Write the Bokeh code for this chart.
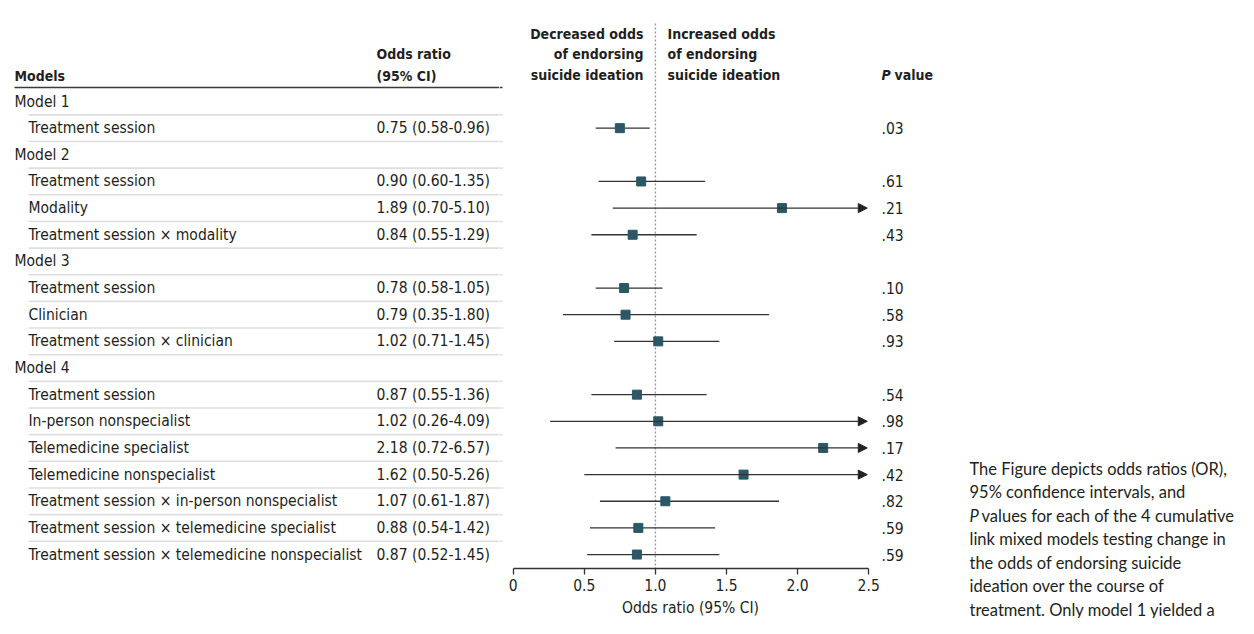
from bokeh.plotting import figure
from bokeh.layouts import row
from bokeh.models import ColumnDataSource, Range1d, FixedTicker, Arrow, NormalHead
from bokeh.core.properties import value
from bokeh.embed import file_html
from bokeh.resources import INLINE

# ---------------- data ----------------
models = ["Model 1", "Model 2", "Model 3", "Model 4"]
terms = [
    ["Treatment session"],
    ["Treatment session", "Modality", "Treatment session × modality"],
    ["Treatment session", "Clinician", "Treatment session × clinician"],
    ["Treatment session", "In-person nonspecialist", "Telemedicine specialist",
     "Telemedicine nonspecialist", "Treatment session × in-person nonspecialist",
     "Treatment session × telemedicine specialist",
     "Treatment session × telemedicine nonspecialist"],
]
or_est = [0.75, 0.90, 1.89, 0.84, 0.78, 0.79, 1.02, 0.87, 1.02, 2.18, 1.62, 1.07, 0.88, 0.87]
ci_low = [0.58, 0.60, 0.70, 0.55, 0.58, 0.35, 0.71, 0.55, 0.26, 0.72, 0.50, 0.61, 0.54, 0.52]
ci_high = [0.96, 1.35, 5.10, 1.29, 1.05, 1.80, 1.45, 1.36, 4.09, 6.57, 5.26, 1.87, 1.42, 1.45]
p_labels = [".03", ".61", ".21", ".43", ".10", ".58", ".93", ".54", ".98", ".17", ".42",
            ".82", ".59", ".59"]
tick_values = [0, 0.5, 1.0, 1.5, 2.0, 2.5]
tick_labels = ["0", "0.5", "1.0", "1.5", "2.0", "2.5"]
axis_max = 2.5

caption_lines = [
    "The Figure depicts odds ratios (OR),",
    "95% confidence intervals, and",
    "values for each of the 4 cumulative",
    "link mixed models testing change in",
    "the odds of endorsing suicide",
    "ideation over the course of",
    "treatment. Only model 1 yielded a",
    "significant result.",
]

# ---------------- layout helpers ----------------
W, H = 1238, 618
XA, XB = 499, 881             # panel split points (table | forest | p values + note)
FRAME_H = 568                 # axis line position in forest panel
X0_PX, X_SCALE = 512.7, 142.2      # pixel of OR=0, pixels per OR unit
Y0_PX, Y_STEP = 101.0, 26.65       # pixel of first row, pixels per row


def xd(px):
    return (px - X0_PX) / X_SCALE


def yd(py):
    return (py - Y0_PX) / Y_STEP


FONT_NAME = "DejaVu Sans Condensed, Liberation Sans Narrow, Roboto"
FONT = value(FONT_NAME)
CAP_FONT = value("Lato")
TXT = "#231f20"
TS = "15.5px"
HS = "14px"
CS = "16.5px"

# build rows
hdr_y, hdr_txt = [], []
item_y, item_txt = [], []
r = 0
for m, tl in zip(models, terms):
    hdr_y.append(r)
    hdr_txt.append(m)
    r += 1
    for t in tl:
        item_y.append(r)
        item_txt.append(t)
        r += 1
n_rows = r
sep_y = [i + 0.5 for i in range(n_rows - 1)]

or_txt = [f"{o:.2f} ({l:.2f}-{h:.2f})" for o, l, h in zip(or_est, ci_low, ci_high)]


def bare(fig):
    fig.frame_align = False
    fig.grid.visible = False
    fig.outline_line_color = None
    return fig


def txt(fig, x, y, t, size=TS, style="normal", align="left", font=FONT):
    fig.text(x=x, y=y, text=t, text_font=font, text_font_size=size,
             text_font_style=style, text_baseline="middle", text_align=align,
             text_color=TXT)


# ================= A: table =================
a = bare(figure(width=XA, height=H, x_range=Range1d(0, XA),
                y_range=Range1d(yd(H), yd(0)), output_backend="svg",
                toolbar_location=None, x_axis_location=None, y_axis_location=None,
                min_border=0))
a.segment(x0=28, x1=XA, y0=sep_y, y1=sep_y, line_color="#dedede", line_width=1.6)
a.segment(x0=14, x1=XA, y0=yd(87), y1=yd(87), line_color="#3a3a3a", line_width=1.6)
txt(a, 14, hdr_y, hdr_txt)
txt(a, 28, item_y, item_txt)
txt(a, 376, item_y, or_txt)
txt(a, [14], [yd(75)], ["Models"], size=HS, style="bold")
txt(a, [376], [yd(53)], ["Odds ratio"], size=HS, style="bold")
txt(a, [376], [yd(75)], ["(95% CI)"], size=HS, style="bold")

# ================= B: forest plot =================
p = bare(figure(x_range=Range1d(xd(XA), xd(XB)), y_range=Range1d(yd(FRAME_H), yd(0)),
                output_backend="svg", toolbar_location=None, y_axis_location=None,
                min_border=0))
p.frame_width = XB - XA
p.frame_height = FRAME_H

# end pieces of the table rules
p.segment(x0=xd(XA), x1=xd(502), y0=sep_y, y1=sep_y, line_color="#dedede", line_width=1.6)
p.segment(x0=xd(XA), x1=xd(502), y0=yd(87), y1=yd(87), line_color="#3a3a3a", line_width=1.6)

# reference line at OR = 1
p.segment(x0=1, x1=1, y0=yd(23), y1=yd(FRAME_H), line_color="#9a9a9a",
          line_width=1.4, line_dash="2 2")

# CIs
seg_src = ColumnDataSource(dict(
    lo=[l for l, h in zip(ci_low, ci_high) if h <= axis_max],
    hi=[h for l, h in zip(ci_low, ci_high) if h <= axis_max],
    y=[y for y, h in zip(item_y, ci_high) if h <= axis_max]))
p.segment(x0="lo", x1="hi", y0="y", y1="y", source=seg_src, line_color="#333333",
          line_width=1.3)

arr_src = ColumnDataSource(dict(
    lo=[l for l, h in zip(ci_low, ci_high) if h > axis_max],
    hi=[axis_max - 0.01 for h in ci_high if h > axis_max],
    y=[y for y, h in zip(item_y, ci_high) if h > axis_max]))
p.add_layout(Arrow(x_start="lo", x_end="hi", y_start="y", y_end="y", source=arr_src,
                   line_color="#333333", line_width=1.3,
                   end=NormalHead(size=9, fill_color="#222222", line_color="#222222",
                                  line_width=1)))

# estimates
p.scatter(x=or_est, y=item_y, marker="square", size=9, fill_color="#2b5766",
          line_color="#2b5766")

for k, t in enumerate(["Decreased odds", "of endorsing", "suicide ideation"]):
    txt(p, [xd(643)], [yd(33 + 20.5 * k)], [t], size=HS, style="bold", align="right")
for k, t in enumerate(["Increased odds", "of endorsing", "suicide ideation"]):
    txt(p, [xd(667)], [yd(33 + 20.5 * k)], [t], size=HS, style="bold")

# axis
ax = p.xaxis[0]
ax.bounds = (0, axis_max)
ax.ticker = FixedTicker(ticks=tick_values)
ax.major_label_overrides = {v: l for v, l in zip(tick_values, tick_labels)}
ax.minor_tick_line_color = None
ax.major_tick_in = 0
ax.major_tick_out = 6
ax.axis_line_color = "#333333"
ax.axis_line_width = 1.3
ax.major_tick_line_color = "#333333"
ax.major_tick_line_width = 1.3
ax.major_label_text_font = FONT_NAME
ax.major_label_text_font_size = TS
ax.major_label_text_color = TXT
ax.major_label_standoff = 4
ax.axis_label = "Odds ratio (95% CI)"
ax.axis_label_text_font = FONT_NAME
ax.axis_label_text_font_size = TS
ax.axis_label_text_font_style = "normal"
ax.axis_label_text_color = TXT
ax.axis_label_standoff = 5

# ================= C: P values + note =================
c = bare(figure(width=W - XB, height=H, x_range=Range1d(XB, W),
                y_range=Range1d(yd(H), yd(0)), output_backend="svg",
                toolbar_location=None, x_axis_location=None, y_axis_location=None,
                min_border=0))
txt(c, XB, item_y, p_labels)
txt(c, [XB], [yd(74)], ["P"], size=HS, style="bold italic")
txt(c, [894], [yd(74)], ["value"], size=HS, style="bold")

CAP_X = 969
cap_x = [CAP_X + (12 if k == 2 else 0) for k in range(len(caption_lines))]
cap_y = [yd(468 + 23.5 * k) for k in range(len(caption_lines))]
txt(c, cap_x, cap_y, caption_lines, size=CS, font=CAP_FONT)
txt(c, [CAP_X], [cap_y[2]], ["P"], size=CS, style="italic", font=CAP_FONT)

open("out.html", "w").write(file_html(row(a, p, c), INLINE))
